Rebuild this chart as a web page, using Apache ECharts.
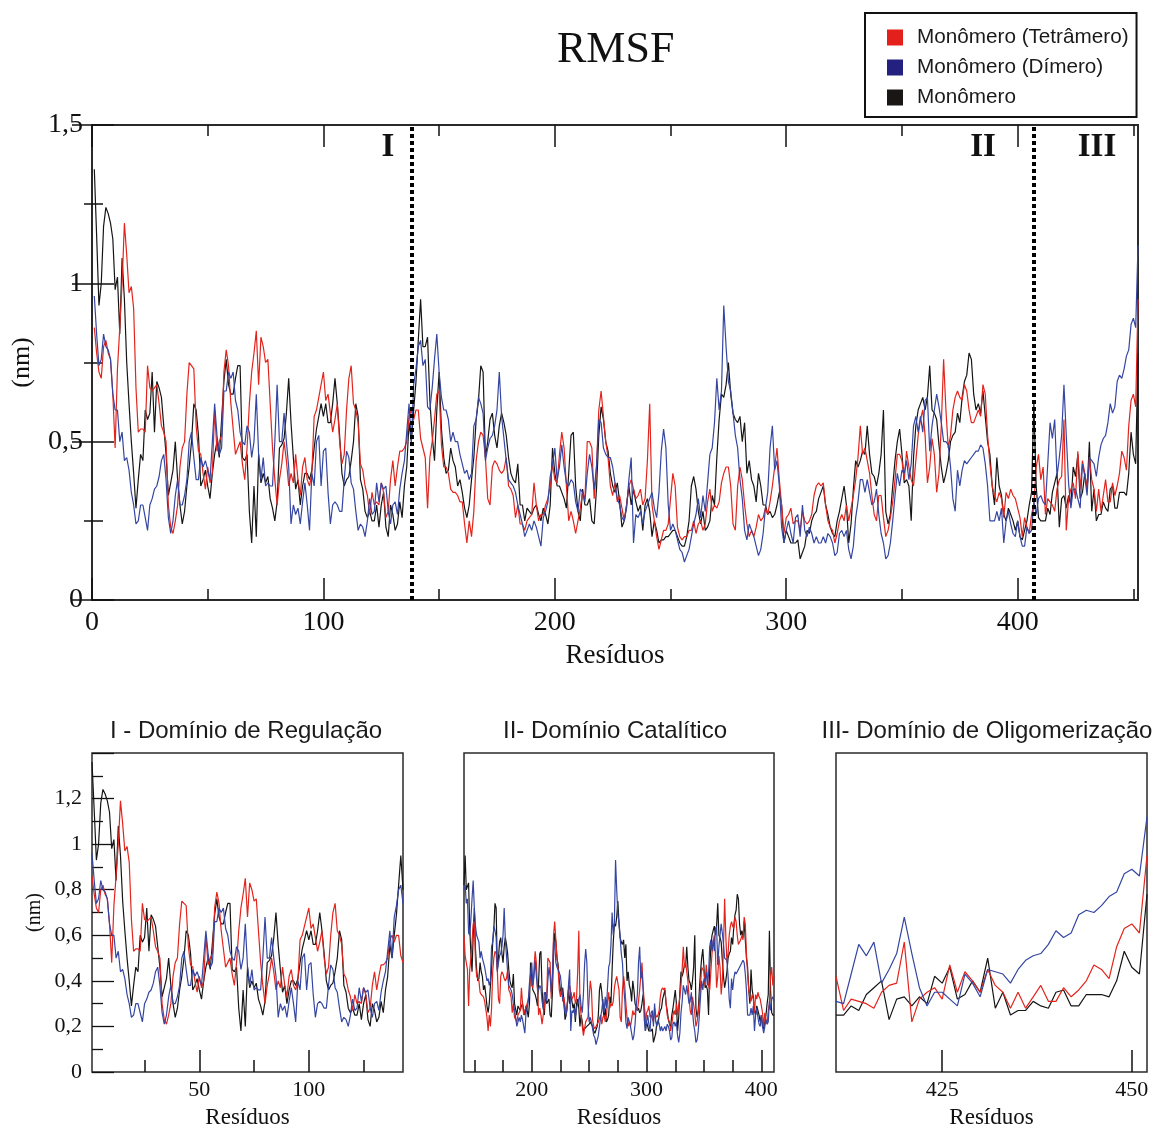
<!DOCTYPE html>
<html>
<head>
<meta charset="utf-8">
<title>RMSF</title>
<script src="https://cdn.jsdelivr.net/npm/echarts@6/dist/echarts.min.js"></script>
<style>
html, body { margin: 0; padding: 0; background: #fff; }
#chart { width: 1159px; height: 1128px; }
</style>
</head>
<body>
<div id="chart"></div>
<script>
// series names (legend order)
var seriesNames = ['Monômero (Tetrâmero)', 'Monômero (Dímero)', 'Monômero'];
var firstResidue = 1;

// RMSF (nm) per residue
var rmsfTetramer = [
  0.86, 0.78, 0.72, 0.70, 0.80, 0.82, 0.78, 0.76, 0.65, 0.48,
  0.73, 0.86, 1.00, 1.19, 1.09, 0.97, 0.99, 0.92, 0.67, 0.53,
  0.54, 0.54, 0.53, 0.74, 0.67, 0.66, 0.67, 0.68, 0.62, 0.55,
  0.53, 0.50, 0.30, 0.23, 0.21, 0.25, 0.30, 0.42, 0.48, 0.50,
  0.65, 0.75, 0.74, 0.73, 0.55, 0.47, 0.46, 0.40, 0.35, 0.42,
  0.37, 0.40, 0.60, 0.47, 0.50, 0.52, 0.72, 0.79, 0.74, 0.62,
  0.54, 0.46, 0.48, 0.50, 0.43, 0.38, 0.48, 0.62, 0.72, 0.78,
  0.85, 0.68, 0.83, 0.80, 0.75, 0.76, 0.62, 0.48, 0.38, 0.30,
  0.38, 0.43, 0.50, 0.44, 0.36, 0.40, 0.37, 0.46, 0.38, 0.33,
  0.42, 0.45, 0.38, 0.36, 0.40, 0.58, 0.60, 0.64, 0.68, 0.72,
  0.63, 0.65, 0.59, 0.53, 0.57, 0.62, 0.50, 0.43, 0.46, 0.60,
  0.70, 0.74, 0.62, 0.60, 0.56, 0.43, 0.41, 0.36, 0.33, 0.27,
  0.34, 0.30, 0.31, 0.30, 0.37, 0.34, 0.26, 0.28, 0.38, 0.44,
  0.36, 0.42, 0.47, 0.47, 0.48, 0.50, 0.58, 0.60, 0.57, 0.60,
  0.60, 0.51, 0.48, 0.45, 0.29, 0.45, 0.50, 0.57, 0.65, 0.66,
  0.49, 0.42, 0.42, 0.40, 0.35, 0.34, 0.34, 0.33, 0.31, 0.31,
  0.24, 0.18, 0.25, 0.20, 0.28, 0.44, 0.50, 0.53, 0.52, 0.45,
  0.32, 0.30, 0.42, 0.44, 0.43, 0.41, 0.40, 0.41, 0.45, 0.36,
  0.35, 0.33, 0.26, 0.30, 0.24, 0.24, 0.22, 0.25, 0.26, 0.27,
  0.37, 0.30, 0.25, 0.27, 0.27, 0.30, 0.32, 0.36, 0.43, 0.38,
  0.37, 0.46, 0.53, 0.48, 0.36, 0.25, 0.28, 0.25, 0.21, 0.25,
  0.29, 0.34, 0.32, 0.50, 0.50, 0.48, 0.32, 0.42, 0.60, 0.66,
  0.58, 0.50, 0.45, 0.36, 0.33, 0.37, 0.31, 0.33, 0.29, 0.25,
  0.30, 0.36, 0.38, 0.35, 0.32, 0.33, 0.35, 0.30, 0.32, 0.44,
  0.62, 0.30, 0.25, 0.20, 0.16, 0.19, 0.22, 0.22, 0.24, 0.32,
  0.40, 0.36, 0.23, 0.20, 0.19, 0.20, 0.20, 0.22, 0.22, 0.25,
  0.21, 0.24, 0.25, 0.22, 0.24, 0.31, 0.35, 0.28, 0.30, 0.29,
  0.31, 0.37, 0.40, 0.42, 0.42, 0.36, 0.24, 0.22, 0.36, 0.42,
  0.38, 0.30, 0.24, 0.20, 0.22, 0.20, 0.23, 0.27, 0.25, 0.26,
  0.29, 0.27, 0.31, 0.36, 0.42, 0.48, 0.38, 0.30, 0.21, 0.26,
  0.27, 0.29, 0.24, 0.25, 0.25, 0.22, 0.28, 0.25, 0.24, 0.25,
  0.27, 0.33, 0.36, 0.37, 0.36, 0.37, 0.30, 0.25, 0.23, 0.22,
  0.18, 0.21, 0.25, 0.27, 0.25, 0.30, 0.25, 0.29, 0.33, 0.38,
  0.45, 0.55, 0.46, 0.48, 0.44, 0.40, 0.33, 0.27, 0.25, 0.33,
  0.33, 0.26, 0.20, 0.22, 0.26, 0.31, 0.38, 0.46, 0.46, 0.44,
  0.38, 0.47, 0.42, 0.38, 0.36, 0.44, 0.52, 0.57, 0.60, 0.52,
  0.37, 0.42, 0.51, 0.46, 0.34, 0.40, 0.55, 0.76, 0.60, 0.48,
  0.52, 0.60, 0.64, 0.66, 0.64, 0.63, 0.68, 0.66, 0.60, 0.56,
  0.56, 0.58, 0.60, 0.58, 0.68, 0.65, 0.52, 0.43, 0.36, 0.33,
  0.31, 0.34, 0.32, 0.26, 0.34, 0.32, 0.35, 0.33, 0.32, 0.29,
  0.26, 0.20, 0.26, 0.23, 0.21, 0.27, 0.30, 0.42, 0.46, 0.38,
  0.42, 0.27, 0.32, 0.31, 0.30, 0.28, 0.35, 0.38, 0.39, 0.57,
  0.22, 0.32, 0.35, 0.37, 0.32, 0.47, 0.35, 0.44, 0.40, 0.35,
  0.45, 0.38, 0.35, 0.28, 0.35, 0.28, 0.33, 0.38, 0.31, 0.31,
  0.37, 0.33, 0.36, 0.40, 0.47, 0.45, 0.41, 0.55, 0.63, 0.65,
  0.61, 0.95
];

var rmsfDimer = [
  0.96, 0.84, 0.74, 0.76, 0.84, 0.80, 0.79, 0.76, 0.65, 0.60,
  0.60, 0.50, 0.53, 0.44, 0.45, 0.41, 0.34, 0.30, 0.24, 0.25,
  0.30, 0.30, 0.26, 0.22, 0.30, 0.32, 0.35, 0.36, 0.39, 0.44,
  0.46, 0.38, 0.26, 0.21, 0.25, 0.33, 0.38, 0.30, 0.30, 0.33,
  0.38, 0.50, 0.53, 0.45, 0.38, 0.38, 0.45, 0.42, 0.44, 0.41,
  0.38, 0.50, 0.62, 0.52, 0.46, 0.48, 0.66, 0.66, 0.72, 0.70,
  0.72, 0.63, 0.60, 0.53, 0.50, 0.49, 0.55, 0.53, 0.45, 0.50,
  0.65, 0.46, 0.38, 0.45, 0.36, 0.37, 0.36, 0.36, 0.50, 0.68,
  0.50, 0.50, 0.59, 0.50, 0.42, 0.24, 0.30, 0.27, 0.29, 0.24,
  0.31, 0.37, 0.30, 0.22, 0.40, 0.36, 0.50, 0.52, 0.36, 0.47,
  0.48, 0.34, 0.24, 0.30, 0.31, 0.30, 0.28, 0.28, 0.38, 0.47,
  0.45, 0.37, 0.35, 0.28, 0.22, 0.24, 0.23, 0.20, 0.25, 0.32,
  0.27, 0.28, 0.37, 0.31, 0.37, 0.35, 0.36, 0.28, 0.24, 0.30,
  0.31, 0.27, 0.35, 0.40, 0.44, 0.53, 0.62, 0.50, 0.68, 0.73,
  0.80, 0.82, 0.74, 0.76, 0.61, 0.60, 0.67, 0.76, 0.84, 0.72,
  0.64, 0.60, 0.60, 0.57, 0.50, 0.53, 0.50, 0.50, 0.46, 0.43,
  0.40, 0.41, 0.38, 0.40, 0.55, 0.57, 0.64, 0.62, 0.59, 0.44,
  0.48, 0.51, 0.52, 0.55, 0.60, 0.72, 0.58, 0.51, 0.44, 0.38,
  0.37, 0.36, 0.34, 0.30, 0.27, 0.24, 0.20, 0.22, 0.24, 0.22,
  0.25, 0.23, 0.20, 0.17, 0.26, 0.28, 0.31, 0.39, 0.43, 0.48,
  0.38, 0.42, 0.49, 0.42, 0.37, 0.36, 0.38, 0.37, 0.31, 0.28,
  0.35, 0.34, 0.31, 0.40, 0.46, 0.42, 0.35, 0.42, 0.57, 0.56,
  0.48, 0.46, 0.45, 0.45, 0.42, 0.37, 0.32, 0.30, 0.26, 0.25,
  0.29, 0.38, 0.45, 0.18, 0.27, 0.26, 0.28, 0.24, 0.28, 0.30,
  0.32, 0.34, 0.29, 0.26, 0.34, 0.47, 0.54, 0.48, 0.30, 0.22,
  0.24, 0.22, 0.19, 0.16, 0.15, 0.12, 0.14, 0.16, 0.20, 0.24,
  0.27, 0.32, 0.26, 0.33, 0.28, 0.37, 0.46, 0.48, 0.56, 0.70,
  0.60, 0.66, 0.93, 0.80, 0.69, 0.66, 0.59, 0.52, 0.48, 0.38,
  0.32, 0.22, 0.19, 0.24, 0.22, 0.20, 0.17, 0.14, 0.16, 0.21,
  0.29, 0.34, 0.48, 0.55, 0.41, 0.44, 0.36, 0.23, 0.18, 0.22,
  0.25, 0.21, 0.18, 0.26, 0.27, 0.20, 0.30, 0.22, 0.20, 0.23,
  0.21, 0.18, 0.20, 0.18, 0.18, 0.20, 0.18, 0.21, 0.20, 0.18,
  0.14, 0.15, 0.21, 0.22, 0.20, 0.22, 0.16, 0.13, 0.17, 0.26,
  0.31, 0.38, 0.38, 0.34, 0.38, 0.34, 0.30, 0.31, 0.35, 0.27,
  0.21, 0.18, 0.13, 0.14, 0.18, 0.25, 0.33, 0.40, 0.36, 0.41,
  0.40, 0.44, 0.38, 0.43, 0.55, 0.58, 0.53, 0.58, 0.53, 0.63,
  0.64, 0.47, 0.55, 0.60, 0.65, 0.61, 0.56, 0.50, 0.50, 0.49,
  0.42, 0.32, 0.28, 0.41, 0.36, 0.41, 0.44, 0.43, 0.44, 0.45,
  0.46, 0.47, 0.47, 0.49, 0.48, 0.43, 0.36, 0.25, 0.25, 0.25,
  0.28, 0.25, 0.29, 0.18, 0.25, 0.28, 0.24, 0.21, 0.20, 0.25,
  0.20, 0.17, 0.17, 0.23, 0.21, 0.22, 0.31, 0.27, 0.32, 0.33,
  0.31, 0.30, 0.43, 0.56, 0.51, 0.57, 0.39, 0.45, 0.52, 0.68,
  0.52, 0.37, 0.29, 0.35, 0.35, 0.32, 0.29, 0.43, 0.39, 0.33,
  0.45, 0.44, 0.43, 0.39, 0.45, 0.49, 0.51, 0.52, 0.56, 0.62,
  0.59, 0.61, 0.69, 0.71, 0.70, 0.73, 0.77, 0.79, 0.87, 0.89,
  0.86, 1.12
];

var rmsfMonomer = [
  1.36, 1.15, 0.93, 1.00, 1.18, 1.24, 1.22, 1.19, 1.14, 0.98,
  1.02, 0.84, 1.08, 0.95, 0.75, 0.62, 0.50, 0.40, 0.29, 0.38,
  0.46, 0.44, 0.60, 0.57, 0.59, 0.72, 0.53, 0.69, 0.67, 0.64,
  0.55, 0.46, 0.33, 0.37, 0.41, 0.50, 0.38, 0.30, 0.24, 0.28,
  0.36, 0.42, 0.50, 0.62, 0.60, 0.52, 0.36, 0.38, 0.41, 0.36,
  0.32, 0.40, 0.46, 0.50, 0.45, 0.57, 0.69, 0.76, 0.68, 0.65,
  0.65, 0.70, 0.74, 0.74, 0.45, 0.44, 0.46, 0.28, 0.18, 0.36,
  0.20, 0.46, 0.37, 0.40, 0.37, 0.39, 0.32, 0.29, 0.25, 0.31,
  0.48, 0.49, 0.51, 0.59, 0.70, 0.56, 0.45, 0.35, 0.38, 0.30,
  0.36, 0.40, 0.40, 0.38, 0.41, 0.48, 0.54, 0.58, 0.62, 0.58,
  0.62, 0.56, 0.56, 0.62, 0.70, 0.62, 0.52, 0.40, 0.36, 0.38,
  0.39, 0.44, 0.50, 0.62, 0.58, 0.38, 0.35, 0.28, 0.26, 0.28,
  0.25, 0.25, 0.30, 0.23, 0.30, 0.34, 0.23, 0.20, 0.30, 0.27,
  0.22, 0.24, 0.31, 0.26, 0.36, 0.42, 0.56, 0.50, 0.60, 0.69,
  0.82, 0.95, 0.80, 0.80, 0.83, 0.63, 0.52, 0.44, 0.60, 0.72,
  0.54, 0.45, 0.40, 0.41, 0.48, 0.44, 0.42, 0.36, 0.38, 0.34,
  0.29, 0.26, 0.30, 0.38, 0.45, 0.57, 0.63, 0.74, 0.72, 0.45,
  0.50, 0.57, 0.59, 0.52, 0.48, 0.55, 0.59, 0.56, 0.52, 0.45,
  0.40, 0.38, 0.37, 0.43, 0.30, 0.30, 0.25, 0.29, 0.28, 0.27,
  0.29, 0.30, 0.27, 0.25, 0.29, 0.27, 0.24, 0.30, 0.48, 0.40,
  0.36, 0.36, 0.34, 0.32, 0.29, 0.40, 0.52, 0.53, 0.36, 0.28,
  0.25, 0.35, 0.30, 0.30, 0.32, 0.25, 0.24, 0.35, 0.52, 0.61,
  0.57, 0.50, 0.47, 0.40, 0.36, 0.34, 0.37, 0.31, 0.23, 0.25,
  0.30, 0.36, 0.30, 0.35, 0.31, 0.28, 0.30, 0.22, 0.30, 0.32,
  0.28, 0.20, 0.25, 0.22, 0.18, 0.19, 0.19, 0.20, 0.20, 0.21,
  0.22, 0.22, 0.20, 0.18, 0.17, 0.17, 0.20, 0.25, 0.36, 0.39,
  0.35, 0.28, 0.24, 0.28, 0.22, 0.23, 0.25, 0.33, 0.30, 0.45,
  0.57, 0.65, 0.64, 0.68, 0.75, 0.65, 0.59, 0.57, 0.56, 0.58,
  0.50, 0.56, 0.40, 0.44, 0.38, 0.36, 0.31, 0.40, 0.36, 0.30,
  0.30, 0.27, 0.28, 0.26, 0.27, 0.30, 0.34, 0.30, 0.18, 0.22,
  0.20, 0.18, 0.18, 0.18, 0.19, 0.13, 0.15, 0.17, 0.22, 0.21,
  0.25, 0.27, 0.28, 0.32, 0.34, 0.36, 0.30, 0.27, 0.23, 0.21,
  0.20, 0.25, 0.28, 0.32, 0.36, 0.30, 0.18, 0.24, 0.35, 0.44,
  0.42, 0.44, 0.47, 0.46, 0.55, 0.46, 0.40, 0.39, 0.36, 0.40,
  0.46, 0.60, 0.28, 0.24, 0.27, 0.36, 0.44, 0.50, 0.54, 0.46,
  0.37, 0.38, 0.36, 0.25, 0.45, 0.55, 0.60, 0.62, 0.64, 0.60,
  0.64, 0.74, 0.60, 0.59, 0.57, 0.49, 0.42, 0.37, 0.40, 0.44,
  0.50, 0.52, 0.53, 0.59, 0.56, 0.64, 0.69, 0.71, 0.78, 0.76,
  0.65, 0.60, 0.62, 0.59, 0.66, 0.58, 0.50, 0.46, 0.36, 0.30,
  0.45, 0.36, 0.33, 0.27, 0.25, 0.29, 0.27, 0.25, 0.22, 0.25,
  0.20, 0.19, 0.22, 0.25, 0.30, 0.34, 0.62, 0.36, 0.26, 0.25,
  0.25, 0.25, 0.29, 0.27, 0.34, 0.37, 0.40, 0.23, 0.32, 0.33,
  0.29, 0.33, 0.30, 0.42, 0.39, 0.46, 0.32, 0.34, 0.40, 0.35,
  0.50, 0.28, 0.35, 0.25, 0.27, 0.27, 0.31, 0.29, 0.28, 0.35,
  0.36, 0.29, 0.29, 0.34, 0.34, 0.34, 0.33, 0.40, 0.53, 0.46,
  0.43, 0.78
];

// domain boundaries (residue) and labels
var domainBounds = [138, 407];
var domainMarks = ['I', 'II', 'III'];
var panelTitles = ['I - Domínio de Regulação', 'II- Domínio Catalítico', 'III- Domínio de Oligomerização'];

// tick values
var mainTicks = [0, 100, 200, 300, 400];
var mainMinorTicks = [50, 150, 250, 350, 450];
var regTicks = [50, 100];
var regMinorTicks = [25, 75, 125];
var catTicks = [200, 300, 400];
var catMinorTicks = [150, 175, 225, 250, 275, 325, 350, 375];
var oligTicks = [425, 450];

var colors = { tetramer: '#e3241d', dimer: '#3546a2', monomer: '#151515' };
var serif = 'Liberation Serif, Times New Roman, serif';
var sans = 'Liberation Sans, Arial, sans-serif';

function comma(v) {
  return String(Number(v.toFixed(2))).replace('.', ',');
}

function pairs(values, from, to) {
  var out = [];
  for (var i = 0; i < values.length; i++) {
    var r = firstResidue + i;
    if (r >= from && r <= to) out.push([r, values[i]]);
  }
  return out;
}

function xAxis(grid, min, max, ticks, len, opt) {
  opt = opt || {};
  return {
    type: 'value', gridIndex: grid, min: min, max: max,
    position: opt.top ? 'top' : 'bottom',
    axisLine: { show: false },
    splitLine: { show: false },
    axisTick: { show: true, inside: true, length: len, customValues: ticks,
                lineStyle: { color: '#111', width: opt.tw || 1.5 } },
    axisLabel: opt.labels ? {
      show: true, customValues: ticks, margin: opt.margin, color: '#111',
      fontFamily: serif, fontSize: opt.fs
    } : { show: false },
    name: opt.name || '', nameLocation: 'middle', nameGap: opt.nameGap,
    nameTextStyle: { fontFamily: serif, fontSize: opt.nfs, color: '#111' }
  };
}

var chart = echarts.init(document.getElementById('chart'), null, { renderer: 'canvas' });

var panels = [
  { grid: 0, x: 0, y: 0, from: 0, to: 452 },
  { grid: 1, x: 4, y: 2, from: 1, to: 143 },
  { grid: 2, x: 6, y: 3, from: 141, to: 411 },
  { grid: 3, x: 8, y: 4, from: 411, to: 452 }
];

var series = [];
panels.forEach(function (p, k) {
  [[seriesNames[2], rmsfMonomer, colors.monomer],
   [seriesNames[0], rmsfTetramer, colors.tetramer],
   [seriesNames[1], rmsfDimer, colors.dimer]].forEach(function (s, j) {
    var item = {
      name: s[0], type: 'line', xAxisIndex: p.x, yAxisIndex: p.y,
      data: pairs(s[1], p.from, p.to), symbol: 'none', clip: true,
      lineStyle: { color: s[2], width: 1.2 }, itemStyle: { color: s[2] },
      z: 2 + j
    };
    if (k === 0 && j === 0) {
      item.markLine = {
        silent: true, symbol: 'none', label: { show: false },
        lineStyle: { color: '#000', width: 4, type: [4, 3] },
        data: domainBounds.map(function (b) { return { xAxis: b }; })
      };
    }
    series.push(item);
  });
});

var graphics = [
  { type: 'text', left: 557, top: 28, style: { text: 'RMSF', font: '44px ' + serif, fill: '#111' } },
  { type: 'text', x: 388, y: 147, style: { text: domainMarks[0], font: 'bold 33px ' + serif, fill: '#111', align: 'center', verticalAlign: 'middle' } },
  { type: 'text', x: 983, y: 147, style: { text: domainMarks[1], font: 'bold 33px ' + serif, fill: '#111', align: 'center', verticalAlign: 'middle' } },
  { type: 'text', x: 1097, y: 147, style: { text: domainMarks[2], font: 'bold 33px ' + serif, fill: '#111', align: 'center', verticalAlign: 'middle' } },
  { type: 'text', x: 246, y: 731, style: { text: panelTitles[0], font: '24px ' + sans, fill: '#1a1a1a', align: 'center', verticalAlign: 'middle' } },
  { type: 'text', x: 615, y: 731, style: { text: panelTitles[1], font: '24px ' + sans, fill: '#1a1a1a', align: 'center', verticalAlign: 'middle' } },
  { type: 'text', x: 987, y: 731, style: { text: panelTitles[2], font: '24px ' + sans, fill: '#1a1a1a', align: 'center', verticalAlign: 'middle' } }
];

function grid(left, top, width, height, bw) {
  return { left: left, top: top, width: width, height: height, show: true,
           borderColor: '#2a2a2a', borderWidth: bw, outerBoundsMode: 'none', containLabel: false };
}

var option = {
  animation: false,
  backgroundColor: '#fff',
  graphic: graphics,
  legend: {
    left: 865, top: 13, orient: 'vertical', icon: 'rect',
    itemWidth: 16, itemHeight: 16, itemGap: 9,
    padding: [14, 8, 9, 22], borderColor: '#111', borderWidth: 2,
    textStyle: { fontFamily: sans, fontSize: 20.7, color: '#1a1a1a', padding: [0, 0, 0, 9] },
    data: [
      { name: seriesNames[0], itemStyle: { color: '#e3201b' } },
      { name: seriesNames[1], itemStyle: { color: '#24207f' } },
      { name: seriesNames[2], itemStyle: { color: '#1a1616' } }
    ]
  },
  grid: [
    grid(92, 125, 1046, 475, 2),
    grid(92, 753, 311, 319, 1.5),
    grid(464, 753, 310, 319, 1.5),
    grid(836, 753, 311, 319, 1.5)
  ],
  xAxis: [
    xAxis(0, 0, 452, mainTicks, 22, { labels: true, fs: 28, margin: 9, name: 'Resíduos', nameGap: 42, nfs: 27 }),
    xAxis(0, 0, 452, mainMinorTicks, 11),
    xAxis(0, 0, 452, mainTicks, 22, { top: true }),
    xAxis(0, 0, 452, mainMinorTicks, 11, { top: true }),
    xAxis(1, 1, 143, regTicks, 22, { labels: true, fs: 22, margin: 7, name: 'Resíduos', nameGap: 34, nfs: 23 }),
    xAxis(1, 1, 143, regMinorTicks, 12),
    xAxis(2, 141, 411, catTicks, 22, { labels: true, fs: 22, margin: 7, name: 'Resíduos', nameGap: 34, nfs: 23 }),
    xAxis(2, 141, 411, catMinorTicks, 12),
    xAxis(3, 411, 452, oligTicks, 22, { labels: true, fs: 22, margin: 7, name: 'Resíduos', nameGap: 34, nfs: 23 })
  ],
  yAxis: [
    {
      type: 'value', gridIndex: 0, min: 0, max: 1.5, interval: 0.5, position: 'left',
      axisLine: { show: false }, splitLine: { show: false },
      axisTick: { inside: true, length: 22, lineStyle: { color: '#111', width: 1.5 } },
      minorTick: { show: true, splitNumber: 2, length: 11, lineStyle: { color: '#111', width: 1.5 } },
      axisLabel: { formatter: comma, margin: 9, fontFamily: serif, fontSize: 28, color: '#111' },
      name: '(nm)', nameLocation: 'middle', nameGap: 57,
      nameTextStyle: { fontFamily: serif, fontSize: 26, color: '#111' }
    },
    {
      type: 'value', gridIndex: 0, min: 0, max: 1.5, interval: 0.5, position: 'right',
      axisLine: { show: false }, splitLine: { show: false },
      axisTick: { inside: true, length: 20, lineStyle: { color: '#111', width: 1.5 } },
      minorTick: { show: true, splitNumber: 2, length: 8, lineStyle: { color: '#111', width: 1.5 } },
      axisLabel: { show: false }
    },
    {
      type: 'value', gridIndex: 1, min: 0, max: 1.4, interval: 0.2, position: 'left',
      axisLine: { show: false }, splitLine: { show: false },
      axisTick: { inside: true, length: 22, lineStyle: { color: '#111', width: 1.3 } },
      minorTick: { show: true, splitNumber: 2, length: 11, lineStyle: { color: '#111', width: 1.3 } },
      axisLabel: { formatter: comma, margin: 10, fontFamily: serif, fontSize: 22, color: '#111', showMaxLabel: false },
      name: '(nm)', nameLocation: 'middle', nameGap: 47,
      nameTextStyle: { fontFamily: serif, fontSize: 20, color: '#111' }
    },
    { type: 'value', gridIndex: 2, min: 0, max: 1.4, show: false },
    { type: 'value', gridIndex: 3, min: 0, max: 1.4, show: false }
  ],
  series: series
};

chart.setOption(option);
</script>
</body>
</html>
